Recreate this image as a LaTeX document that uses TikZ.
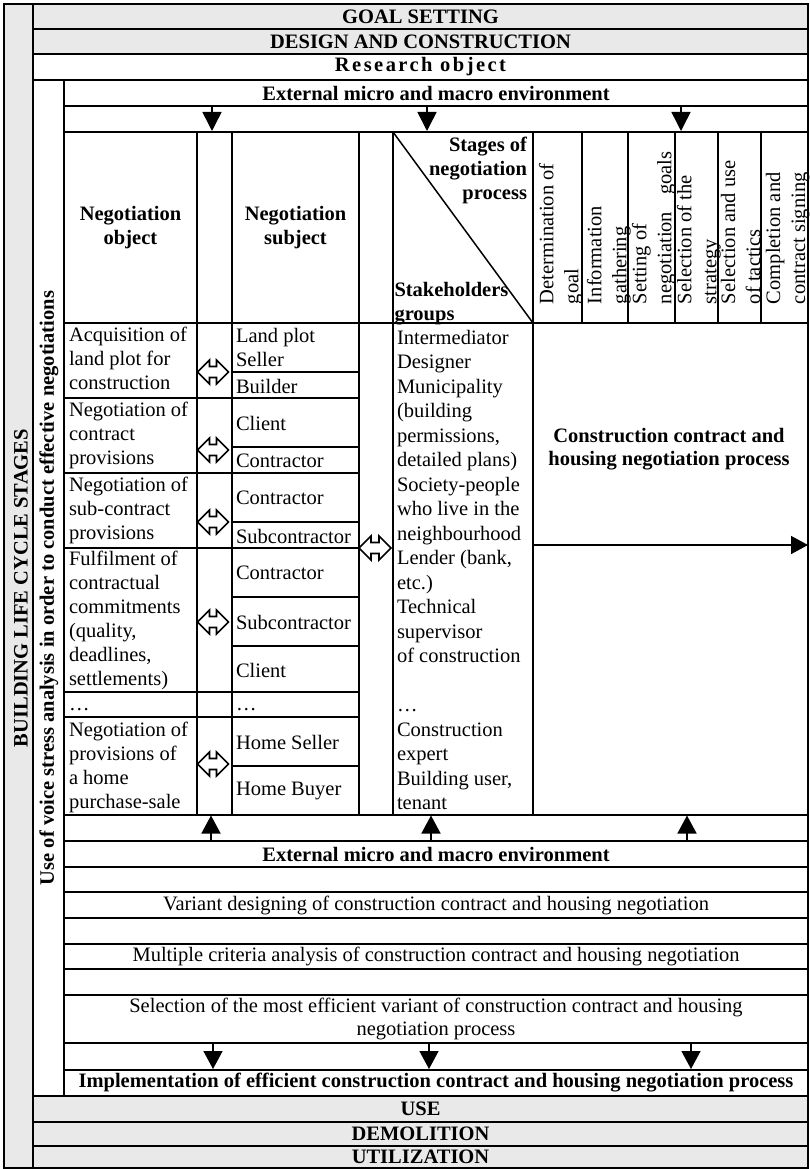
\documentclass[tikz,border=0pt]{standalone}
\usepackage{fontspec}
\setmainfont{Liberation Serif}
\usetikzlibrary{arrows.meta}
\definecolor{gfill}{RGB}{233,233,233}
\newcommand\fsz{\fontsize{20.5}{24}\selectfont}
\newcommand\hollowdbl[3]{%
  \draw[hd] (#1,#2) +(-#3,0) -- +(-#3+12,-12) -- +(-#3+12,-5.5) -- +(#3-12,-5.5) -- +(#3-12,-12) -- +(#3,0)
    -- +(#3-12,12) -- +(#3-12,5.5) -- +(-#3+12,5.5) -- +(-#3+12,12) -- cycle;}
\begin{document}
\begin{tikzpicture}[x=1pt,y=-1pt,
  every node/.style={inner sep=0pt, outer sep=0pt, font=\fsz},
  cell/.style={draw, line width=1.5pt, anchor=north west, align=center},
  gcell/.style={cell, fill=gfill},
  bold/.style={font=\fsz\bfseries},
  rsch/.style={font=\fsz\bfseries\addfontfeature{LetterSpace=12}},
  lt/.style={anchor=north west, align=left},
  lw/.style={anchor=west},
  stg/.style={rotate=90, anchor=north west, align=left, font=\fontsize{20.5}{25}\selectfont},
  varr/.style={line width=1.5pt, -{Triangle[length=19pt,width=19pt]}},
  harr/.style={line width=1.5pt, -{Triangle[length=17pt,width=18pt]}},
  hd/.style={line width=1.6pt, line join=miter},
]
\useasboundingbox (0,0) rectangle (810,1169);
% frame columns
\node[gcell, minimum width=29pt, minimum height=1164pt] (lcs) at (4,4) {};
\node[bold, rotate=90] (lcst) at (21,588) {BUILDING LIFE CYCLE STAGES};
\node[gcell, bold, minimum width=775pt, minimum height=25pt] (goal) at (33,4) {GOAL SETTING};
\node[gcell, bold, minimum width=775pt, minimum height=25pt] (design) at (33,29) {DESIGN AND CONSTRUCTION};
\node[cell, rsch, minimum width=775pt, minimum height=26pt] (research) at (33,54) {Research object};
\node[cell, minimum width=31pt, minimum height=1016pt] (vsa) at (33,80) {};
\node[bold, rotate=90] (vsat) at (49,588) {Use of voice stress analysis in order to conduct effective negotiations};
\node[cell, bold, minimum width=744pt, minimum height=26pt] (ext1) at (64,80) {External micro and macro environment};
\node[cell, minimum width=744pt, minimum height=26pt] (arow1) at (64,106) {};
% header row
\node[cell, bold, minimum width=133pt, minimum height=191pt] (nobj) at (64,132) {Negotiation\\object};
\node[cell, minimum width=35pt, minimum height=191pt] (hcol1) at (197,132) {};
\node[cell, bold, minimum width=127pt, minimum height=191pt] (nsubj) at (232,132) {Negotiation\\subject};
\node[cell, minimum width=34pt, minimum height=191pt] (hcol2) at (359,132) {};
\node[cell, minimum width=140pt, minimum height=191pt] (shead) at (393,132) {};
\draw[line width=1.5pt] (shead.north west) -- (shead.south east);
\node[bold, anchor=north east, align=right] (stages) at (527,137) {Stages of\\negotiation\\process};
\node[bold, lt] (sgroups) at (394.5,282) {Stakeholders\\groups};
\node[cell, minimum width=49pt, minimum height=191pt] (c1) at (533,132) {};
\node[cell, minimum width=46pt, minimum height=191pt] (c2) at (582,132) {};
\node[cell, minimum width=47pt, minimum height=191pt] (c3) at (628,132) {};
\node[cell, minimum width=43pt, minimum height=191pt] (c4) at (675,132) {};
\node[cell, minimum width=43pt, minimum height=191pt] (c5) at (718,132) {};
\node[cell, minimum width=47pt, minimum height=191pt] (c6) at (761,132) {};
\node[stg] (t1) at (539,304) {Determination of\\goal};
\node[stg] (t2) at (587,304) {Information\\gathering};
\node[stg] (t3) at (632,304) {Setting of\\negotiation\hspace{17pt}goals};
\node[stg] (t4) at (677,304) {Selection of the\\strategy};
\node[stg] (t5) at (721,304) {Selection and use\\of tactics};
\node[stg] (t6) at (766,304) {Completion and\\contract signing};
% object column
\node[cell, minimum width=133pt, minimum height=75pt] (o1) at (64,323) {};
\node[lt] (o1t) at (69,327.5) {Acquisition of\\land plot for\\construction};
\node[cell, minimum width=133pt, minimum height=75pt] (o2) at (64,398) {};
\node[lt] (o2t) at (69,402.5) {Negotiation of\\contract\\provisions};
\node[cell, minimum width=133pt, minimum height=75pt] (o3) at (64,473) {};
\node[lt] (o3t) at (69,477.5) {Negotiation of\\sub-contract\\provisions};
\node[cell, minimum width=133pt, minimum height=144pt] (o4) at (64,548) {};
\node[lt] (o4t) at (69,551.5) {Fulfilment of\\contractual\\commitments\\(quality,\\deadlines,\\settlements)};
\node[cell, minimum width=133pt, minimum height=25pt] (o5) at (64,692) {};
\node[anchor=base west] (o5t) at (69,710) {…};
\node[cell, minimum width=133pt, minimum height=98pt] (o6) at (64,717) {};
\node[lt] (o6t) at (69,722.5) {Negotiation of\\provisions of\\a home\\purchase-sale};
% arrow column 1
\node[cell, minimum width=35pt, minimum height=75pt] (a1) at (197,323) {};
\node[cell, minimum width=35pt, minimum height=75pt] (a2) at (197,398) {};
\node[cell, minimum width=35pt, minimum height=75pt] (a3) at (197,473) {};
\node[cell, minimum width=35pt, minimum height=144pt] (a4) at (197,548) {};
\node[cell, minimum width=35pt, minimum height=25pt] (a5) at (197,692) {};
\node[cell, minimum width=35pt, minimum height=98pt] (a6) at (197,717) {};
\hollowdbl{213}{372}{15.5}
\hollowdbl{213}{450}{15.5}
\hollowdbl{213}{522}{15.5}
\hollowdbl{213}{622}{15.5}
\hollowdbl{213}{764}{15.5}
% subject column
\node[cell, minimum width=127pt, minimum height=49pt] (s1a) at (232,323) {};
\node[lt] (s1at) at (236,328) {Land plot\\Seller};
\node[cell, minimum width=127pt, minimum height=26pt] (s1b) at (232,372) {};
\node[lw] (s1bt) at (236,386) {Builder};
\node[cell, minimum width=127pt, minimum height=49pt] (s2a) at (232,398) {};
\node[lw] (s2at) at (236,423) {Client};
\node[cell, minimum width=127pt, minimum height=26pt] (s2b) at (232,447) {};
\node[lw] (s2bt) at (236,461) {Contractor};
\node[cell, minimum width=127pt, minimum height=49pt] (s3a) at (232,473) {};
\node[lw] (s3at) at (236,498) {Contractor};
\node[cell, minimum width=127pt, minimum height=26pt] (s3b) at (232,522) {};
\node[lw] (s3bt) at (236,536) {Subcontractor};
\node[cell, minimum width=127pt, minimum height=49pt] (s4a) at (232,548) {};
\node[lw] (s4at) at (236,573) {Contractor};
\node[cell, minimum width=127pt, minimum height=49pt] (s4b) at (232,597) {};
\node[lw] (s4bt) at (236,622) {Subcontractor};
\node[cell, minimum width=127pt, minimum height=46pt] (s4c) at (232,646) {};
\node[lw] (s4ct) at (236,670) {Client};
\node[cell, minimum width=127pt, minimum height=25pt] (s5) at (232,692) {};
\node[anchor=base west] (s5t) at (236,710) {…};
\node[cell, minimum width=127pt, minimum height=49pt] (s6a) at (232,717) {};
\node[lw] (s6at) at (236,742) {Home Seller};
\node[cell, minimum width=127pt, minimum height=49pt] (s6b) at (232,766) {};
\node[lw] (s6bt) at (236,791) {Home Buyer};
% arrow column 2
\node[cell, minimum width=34pt, minimum height=492pt] (col2) at (359,323) {};
\hollowdbl{375}{548}{16}
% stakeholders
\node[cell, minimum width=140pt, minimum height=492pt] (stake) at (393,323) {};
\node[lt, font=\fontsize{20.5}{24.5}\selectfont] (staket) at (397,330) {Intermediator\\Designer\\Municipality\\(building\\permissions,\\detailed plans)\\Society-people\\who live in the\\neighbourhood\\Lender (bank,\\etc.)\\Technical\\supervisor\\of construction\\\mbox{}\\…\\Construction\\expert\\Building user,\\tenant};
% process
\node[cell, minimum width=275pt, minimum height=492pt] (proc) at (533,323) {};
\node[align=center, font=\fontsize{20.5}{23.5}\selectfont\bfseries] (proct) at (669,449) {Construction contract and\\housing negotiation process};
\coordinate (hpl) at (533,545);
\coordinate (hpr) at (808,545);
\draw[harr] (hpl) -- (hpr);
% lower rows
\node[cell, minimum width=744pt, minimum height=26pt] (arow2) at (64,815) {};
\node[cell, bold, minimum width=744pt, minimum height=26pt] (ext2) at (64,841) {External micro and macro environment};
\node[cell, minimum width=744pt, minimum height=25pt] (b1) at (64,867) {};
\node[cell, minimum width=744pt, minimum height=26pt] (variant) at (64,892) {Variant designing of construction contract and housing negotiation};
\node[cell, minimum width=744pt, minimum height=26pt] (b2) at (64,918) {};
\node[cell, minimum width=744pt, minimum height=25pt] (multi) at (64,944) {Multiple criteria analysis of construction contract and housing negotiation};
\node[cell, minimum width=744pt, minimum height=26pt] (b3) at (64,969) {};
\node[cell, minimum width=744pt, minimum height=48pt, font=\fontsize{20.5}{23}\selectfont] (select) at (64,995) {Selection of the most efficient variant of construction contract and housing\\negotiation process};
\node[cell, minimum width=744pt, minimum height=27pt] (arow3) at (64,1043) {};
\node[cell, bold, minimum width=744pt, minimum height=26pt] (impl) at (64,1070) {Implementation of efficient construction contract and housing negotiation process};
\node[gcell, bold, minimum width=775pt, minimum height=26pt] (use) at (33,1096) {USE};
\node[gcell, bold, minimum width=775pt, minimum height=24pt] (demol) at (33,1122) {DEMOLITION};
\node[gcell, bold, minimum width=775pt, minimum height=22pt] (util) at (33,1146) {UTILIZATION};
% vertical arrows
\foreach \xx [count=\i] in {212,427,681} {
  \coordinate (dA\i s) at (\xx,106);
  \coordinate (dA\i e) at (\xx,131);
  \draw[varr] (dA\i s) -- (dA\i e);
}
\foreach \xx [count=\i] in {211,431,687} {
  \coordinate (uA\i s) at (\xx,841);
  \coordinate (uA\i e) at (\xx,815.5);
  \draw[varr, -{Triangle[length=18pt,width=19pt]}] (uA\i s) -- (uA\i e);
}
\foreach \xx [count=\i] in {213,429,691} {
  \coordinate (dB\i s) at (\xx,1043);
  \coordinate (dB\i e) at (\xx,1069);
  \draw[varr, -{Triangle[length=18pt,width=19pt]}] (dB\i s) -- (dB\i e);
}
\end{tikzpicture}
\end{document}
